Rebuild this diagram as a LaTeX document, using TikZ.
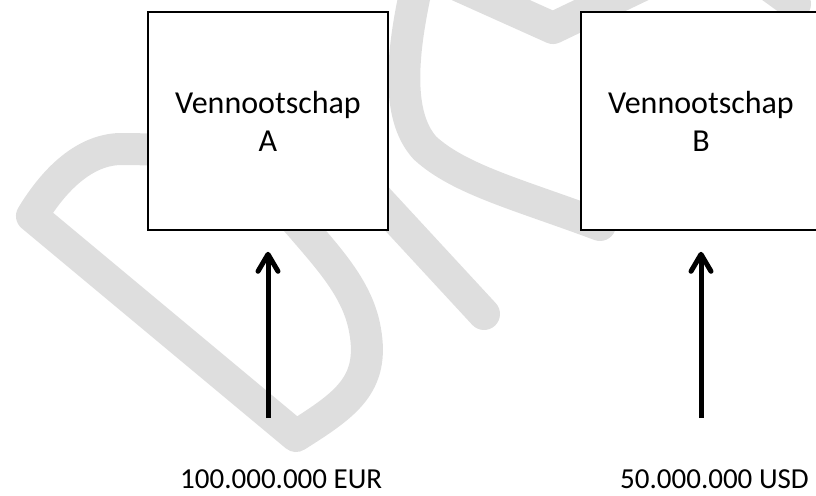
\documentclass[tikz,border=0pt]{standalone}
\usepackage{fontspec}
\setmainfont{Carlito}
\usetikzlibrary{arrows.meta}
\definecolor{wmgray}{RGB}{222,222,222}
\begin{document}
\begin{tikzpicture}[x=1pt,y=-1pt,
  wm/.style={draw=wmgray,line width=32pt,line cap=round,line join=round},
  company/.style={draw=black,fill=white,line width=1.6pt,minimum width=240pt,minimum height=218pt,align=center,font=\fontsize{32}{38}\selectfont,inner sep=0pt},
  amount/.style={font=\fontsize{29}{34}\selectfont,anchor=base west,inner sep=0pt},
  flow/.style={line width=5pt,-{Straight Barb[length=17pt,width=20pt,round]}}]
\useasboundingbox (0,0) rectangle (816,495);
\clip (0,0) rectangle (816,495);
% watermark
\draw[wm] (200,150) -- (120,149) .. controls (85,150) and (55,178) .. (32,216) -- (296,436) .. controls (345,405) and (375,385) .. (365,330) .. controls (358,290) and (330,260) .. (300,225) -- (260,180);
\draw[wm] (362,182) -- (484,314);
\draw[wm] (418,-20) .. controls (402,50) and (395,115) .. (425,148) .. controls (460,180) and (520,195) .. (600,225);
\draw[wm] (455,-16) -- (553,28) -- (645,-16);
\draw[wm] (748,-30) -- (795,4);
% diagram
\node[company] (A) at (268,121) {Vennootschap\\A};
\node[company] (B) at (701,121) {Vennootschap\\B};
\node[amount] (la) at (180,488) {100.000.000 EUR};
\node[amount] (lb) at (620,488) {50.000.000 USD};
\coordinate (sa) at (268,418);
\coordinate (sb) at (701,418);
\draw[flow] (sa) -- ([yshift=-21pt]A.south);
\draw[flow] (sb) -- ([yshift=-21pt]B.south);
\end{tikzpicture}
\end{document}
